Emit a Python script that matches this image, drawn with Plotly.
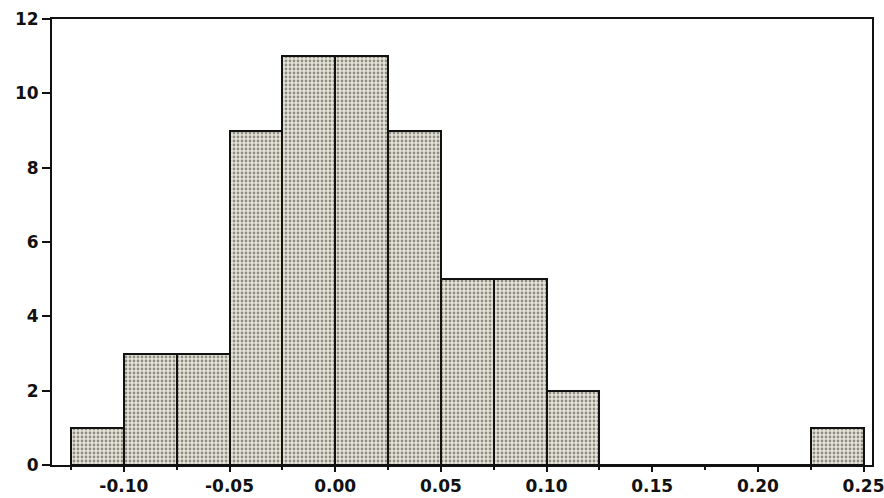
import plotly.graph_objects as go

bin_left = [-0.125, -0.100, -0.075, -0.050, -0.025, 0.000, 0.025, 0.050, 0.075, 0.100, 0.125, 0.150, 0.175, 0.200, 0.225]
counts   = [1, 3, 3, 9, 11, 11, 9, 5, 5, 2, 0, 0, 0, 0, 1]
bin_width = 0.025
x_ticks = [-0.10, -0.05, 0.00, 0.05, 0.10, 0.15, 0.20, 0.25]
x_tick_labels = ["-0.10", "-0.05", "0.00", "0.05", "0.10", "0.15", "0.20", "0.25"]
y_ticks = [0, 2, 4, 6, 8, 10, 12]

xs = [b + bin_width / 2 for b in bin_left]
ys = [c for c in counts]

fig = go.Figure()
fig.add_trace(go.Bar(
    x=xs, y=ys, width=bin_width,
    marker=dict(
        color="#e6e4d8",
        line=dict(color="#111111", width=2),
        pattern=dict(shape=".", fgcolor="#35352f", bgcolor="#e6e4d8", size=4, solidity=0.38),
    ),
    hoverinfo="x+y",
))

font = dict(family="DejaVu Sans, sans-serif", size=17, color="#111111")
fig.update_layout(
    width=884, height=498,
    margin=dict(l=52, r=12, t=19, b=33, autoexpand=False),
    paper_bgcolor="white", plot_bgcolor="white",
    showlegend=False, bargap=0,
    font=font,
    xaxis=dict(
        range=[-0.134, 0.254], tickvals=x_ticks, ticktext=["<b>%s</b>" % t for t in x_tick_labels],
        ticks="outside", ticklen=5, tickwidth=2, tickcolor="#111", automargin=False,
        ticklabeloverflow="allow",
        minor=dict(dtick=0.025, tick0=0, ticks="outside", ticklen=3, tickwidth=1.5, tickcolor="#111"),
        showgrid=False, zeroline=False,
        showline=True, linecolor="#111", linewidth=2, mirror=True,
    ),
    yaxis=dict(
        range=[0, 12], tickvals=y_ticks, ticktext=["<b>%d</b>" % t for t in y_ticks],
        ticks="outside", ticklen=8, tickwidth=2, tickcolor="#111", automargin=False,
        ticklabeloverflow="allow",
        showgrid=False, zeroline=False,
        showline=True, linecolor="#111", linewidth=2, mirror=True,
    ),
)

fig.write_html("out.html", config={"displayModeBar": False},
               post_script="document.body.style.margin='0';document.body.style.padding='0';")
